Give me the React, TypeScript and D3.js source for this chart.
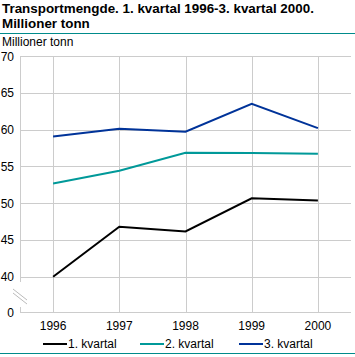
import React from "react";
import * as d3 from "d3";

const years = ["1996", "1997", "1998", "1999", "2000"];
const q1 = [40.0, 46.8, 46.15, 50.65, 50.35];
const q2 = [52.66, 54.4, 56.85, 56.8, 56.7];
const q3 = [59.05, 60.1, 59.7, 63.5, 60.2];
const yTicks = [0, 40, 45, 50, 55, 60, 65, 70];
const seriesNames = ["1. kvartal", "2. kvartal", "3. kvartal"];
const colors = ["#000000", "#009999", "#003399"];

const W = 355;
const H = 357;
const font = "'Liberation Sans', Arial, sans-serif";

export default function App() {
  const x = d3.scalePoint<string>().domain(years).range([20, 351]).padding(0.5);
  const y = d3.scaleLinear().domain([0, 40, 70]).range([312, 276.7, 56]);
  const line = d3
    .line<number>()
    .x((_, i) => x(years[i]) as number)
    .y((d) => y(d));
  const series = [q1, q2, q3];
  const legendX = [43, 140, 239];

  return (
    <svg width={W} height={H} style={{ position: "absolute", left: 0, top: 0, background: "#fff" }}>
      <text x={2} y={13} fontFamily={font} fontWeight="bold" fontSize={13.4}>
        Transportmengde. 1. kvartal 1996-3. kvartal 2000.
      </text>
      <text x={2} y={28} fontFamily={font} fontWeight="bold" fontSize={13.4}>
        Millioner tonn
      </text>
      <line x1={0} x2={W} y1={33.5} y2={33.5} stroke="#008b8b" strokeWidth={1} />
      <text x={2} y={46} fontFamily={font} fontSize={12}>
        Millioner tonn
      </text>
      {yTicks.map((t) => (
        <g key={t}>
          <line x1={20} x2={351} y1={Math.round(y(t)) + 0.5} y2={Math.round(y(t)) + 0.5} stroke="#cccccc" />
          <text x={14} y={y(t) + 4.5} textAnchor="end" fontFamily={font} fontSize={12}>
            {t}
          </text>
        </g>
      ))}
      {years.map((yr) => (
        <g key={yr}>
          <line
            x1={Math.round(x(yr) as number) + 0.5}
            x2={Math.round(x(yr) as number) + 0.5}
            y1={y(70)}
            y2={y(0)}
            stroke="#cccccc"
          />
          <text x={x(yr)} y={330} textAnchor="middle" fontFamily={font} fontSize={12}>
            {yr}
          </text>
        </g>
      ))}
      <line x1={20.5} x2={20.5} y1={y(70)} y2={282} stroke="#cccccc" />
      <line x1={20.5} x2={20.5} y1={307} y2={y(0)} stroke="#cccccc" />
      <line x1={13} y1={289} x2={27} y2={300} stroke="#bbbbbb" />
      <line x1={13} y1={293} x2={27} y2={304} stroke="#bbbbbb" />
      {series.map((s, i) => (
        <path key={i} d={line(s) as string} fill="none" stroke={colors[i]} strokeWidth={2} />
      ))}
      {seriesNames.map((n, i) => (
        <g key={n}>
          <line x1={legendX[i]} x2={legendX[i] + 24} y1={344} y2={344} stroke={colors[i]} strokeWidth={2} />
          <text x={legendX[i] + 25} y={348} fontFamily={font} fontSize={12}>
            {n}
          </text>
        </g>
      ))}
      <line x1={0} x2={W} y1={353.5} y2={353.5} stroke="#008b8b" strokeWidth={1} />
    </svg>
  );
}
